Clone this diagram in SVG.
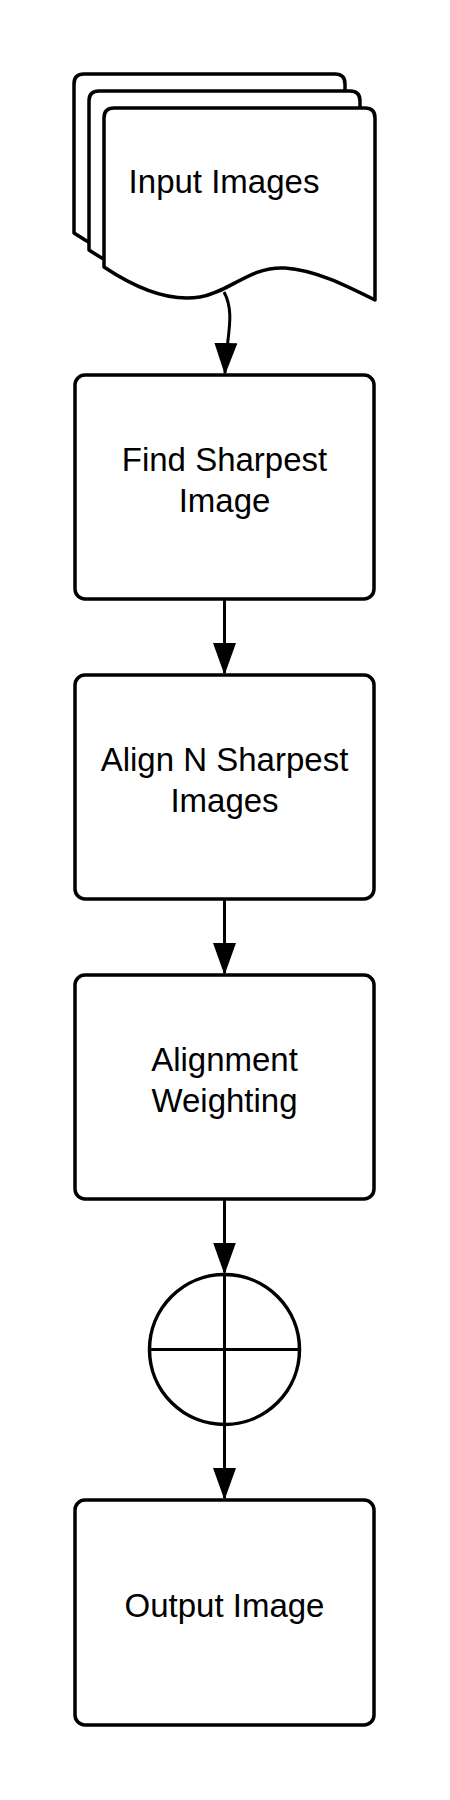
<svg xmlns="http://www.w3.org/2000/svg" width="450" height="1800" viewBox="0 0 450 1800">
<style>
.shape{fill:#fff;stroke:#000;stroke-width:3.5;stroke-linejoin:round}
.conn{fill:none;stroke:#000;stroke-width:3}
.lbl{font-family:"Liberation Sans",Arial,sans-serif;font-size:33px;fill:#000;text-anchor:middle}
</style>
<defs>
<marker id="arr" markerUnits="userSpaceOnUse" markerWidth="34" markerHeight="24" refX="30" refY="11.5" orient="auto">
<path d="M0,0 L32,11.5 L0,23 Z" fill="#000"/>
</marker>
<path id="page" d="M104,267 L104,118 Q104,108 114,108 L365,108 Q375,108 375,118 L375,300 C345,285 315,270 285,268 C250,266 230,292 200,297 C170,302 137,289 104,267 Z"/>
</defs>
<rect width="450" height="1800" fill="#fff"/>
<g id="input-images">
<use href="#page" class="shape" transform="translate(-30,-34)"/>
<use href="#page" class="shape" transform="translate(-15,-17)"/>
<use href="#page" class="shape"/>
<text class="lbl" x="224" y="193">Input Images</text>
</g>
<g id="find-sharpest">
<rect class="shape" x="75" y="375" width="299" height="224" rx="10"/>
<text class="lbl" x="224.5" y="471">Find Sharpest</text>
<text class="lbl" x="224.5" y="512">Image</text>
</g>
<g id="align">
<rect class="shape" x="75" y="675" width="299" height="224" rx="10"/>
<text class="lbl" x="224.5" y="771">Align N Sharpest</text>
<text class="lbl" x="224.5" y="812">Images</text>
</g>
<g id="weighting">
<rect class="shape" x="75" y="975" width="299" height="224" rx="10"/>
<text class="lbl" x="224.5" y="1071">Alignment</text>
<text class="lbl" x="224.5" y="1112">Weighting</text>
</g>
<g id="sum">
<circle class="shape" cx="224.5" cy="1349.5" r="75"/>
<line class="conn" x1="149.5" y1="1349.5" x2="299.5" y2="1349.5"/>
<line class="conn" x1="224.5" y1="1274.5" x2="224.5" y2="1424.5"/>
</g>
<g id="output">
<rect class="shape" x="75" y="1500" width="299" height="225" rx="10"/>
<text class="lbl" x="224.5" y="1617">Output Image</text>
</g>
<g id="connectors">
<path class="conn" d="M224,292 C236,314 226,338 225,373" marker-end="url(#arr)"/>
<line class="conn" x1="224.5" y1="599" x2="224.5" y2="673" marker-end="url(#arr)"/>
<line class="conn" x1="224.5" y1="899" x2="224.5" y2="973" marker-end="url(#arr)"/>
<line class="conn" x1="224.5" y1="1199" x2="224.5" y2="1272.5" marker-end="url(#arr)"/>
<line class="conn" x1="224.5" y1="1424.5" x2="224.5" y2="1498" marker-end="url(#arr)"/>
</g>
</svg>
